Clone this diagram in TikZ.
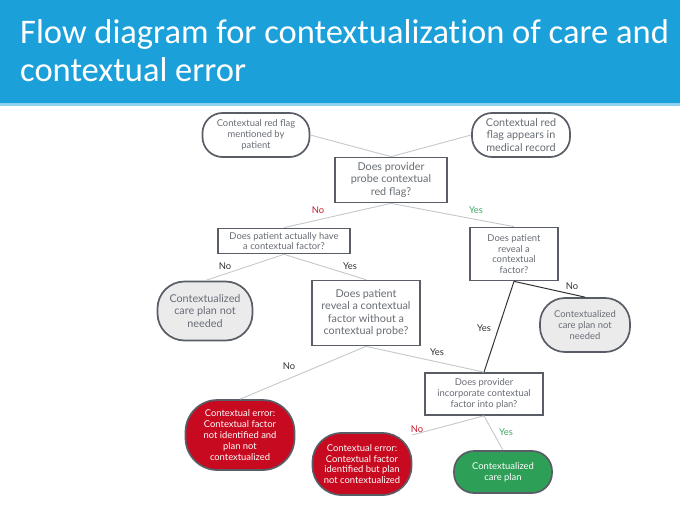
\documentclass[tikz,border=0pt]{standalone}
\usepackage{fontspec}
\setmainfont{Lato}
\newfontfamily\titlefont[Ligatures=NoCommon]{Carlito}

\definecolor{hdrblue}{HTML}{1CA0DA}
\definecolor{hdredge}{HTML}{8ED2F0}
\definecolor{boxline}{HTML}{585D66}
\definecolor{txtgrey}{HTML}{686D75}
\definecolor{pillgrey}{HTML}{EBEBEC}
\definecolor{linkgrey}{HTML}{C4C7CB}
\definecolor{errred}{HTML}{C70A1F}
\definecolor{okgreen}{HTML}{2E9F57}
\definecolor{nored}{HTML}{C4212E}
\definecolor{yesgreen}{HTML}{3FAA63}

\def \smallsz {\fontsize{9.4}{10.8}\selectfont}
\def \bigsz {\fontsize{10.8}{12.2}\selectfont}
\def \boxlw {1.7pt}

\tikzset{
  qbox/.style={draw=boxline, line width=\boxlw, fill=white, text=txtgrey, align=center, inner sep=1pt},
  startpill/.style={qbox, rounded corners=#1},
  greypill/.style={qbox, fill=pillgrey, rounded corners=#1},
  errpill/.style={draw=boxline, line width=\boxlw, fill=errred, text=white, align=center, inner sep=1pt, rounded corners=#1},
  okpill/.style={draw=boxline, line width=\boxlw, fill=okgreen, text=white, align=center, inner sep=1pt, rounded corners=#1},
  link/.style={draw=linkgrey, line width=0.9pt},
  darklink/.style={draw=black!80, line width=1pt},
  lbl/.style={font=\smallsz, text=black!80, inner sep=0pt},
}

\begin{document}
\begin{tikzpicture}[x=1pt, y=-1pt]
\useasboundingbox (0,0) rectangle (680,508);

% header band
\fill[hdrblue] (0,0) rectangle (680,103);
\fill[hdredge] (0,103) rectangle (680,106);
\node[anchor=base west, text=white, inner sep=0pt, font=\titlefont\fontsize{34.5}{40}\selectfont] (title1) at (20,44) {Flow diagram for contextualization of care and};
\node[anchor=base west, text=white, inner sep=0pt, font=\titlefont\fontsize{34.5}{40}\selectfont] (title2) at (20,82) {contextual error};

% start points
\node[startpill=20pt, font=\smallsz, minimum width=107pt, minimum height=44pt] (flagpat) at (256,135) {Contextual red flag\\mentioned by\\patient};
\node[startpill=20pt, font=\bigsz, minimum width=98pt, minimum height=44pt] (flagrec) at (521,135) {Contextual red\\flag appears in\\medical record};

% questions
\node[qbox, font=\bigsz, minimum width=112pt, minimum height=45pt] (probe) at (391,180) {Does provider\\probe contextual\\red flag?};
\node[qbox, font=\smallsz, minimum width=132pt, minimum height=25pt] (actual) at (284,241) {Does patient actually have\\a contextual factor?};
\node[qbox, font=\smallsz, minimum width=88pt, minimum height=53pt] (reveal) at (514,254) {Does patient\\reveal a\\contextual\\factor?};
\node[qbox, font=\bigsz, minimum width=108pt, minimum height=65pt] (noprobe) at (366,313) {Does patient\\reveal a contextual\\factor without a\\contextual probe?};
\node[qbox, font=\smallsz, minimum width=118pt, minimum height=42pt] (incorp) at (484,394) {Does provider\\incorporate contextual\\factor into plan?};

% outcomes
\node[greypill=27pt, font=\bigsz, minimum width=95pt, minimum height=59pt] (notneedA) at (205,311) {Contextualized\\care plan not\\needed};
\node[greypill=25pt, font=\smallsz, minimum width=90pt, minimum height=54pt] (notneedB) at (585,325) {Contextualized\\care plan not\\needed};
\node[errpill=32pt, font=\smallsz, minimum width=109pt, minimum height=70pt] (errorA) at (240,435) {Contextual error:\\Contextual factor\\not identified and\\plan not\\contextualized};
\node[errpill=29pt, font=\smallsz, minimum width=99pt, minimum height=62pt] (errorB) at (362,464) {Contextual error:\\Contextual factor\\identified but plan\\not contextualized};
\node[okpill=20pt, font=\smallsz, minimum width=98pt, minimum height=42pt] (carePlan) at (503,472) {Contextualized\\care plan};

% connectors
\draw[link] (flagpat.east) -- (probe.north);
\draw[link] (flagrec.west) -- (probe.north);
\draw[link] (probe.south) -- (actual.north);
\draw[link] (probe.south) -- (reveal.north);
\draw[link] (actual.south) -- (notneedA.north);
\draw[link] (actual.south) -- (noprobe.north);
\draw[darklink] (reveal.south) -- (incorp.north);
\draw[darklink] (reveal.south) -- (notneedB.north);
\draw[link] (noprobe.south) -- (incorp.north);
\draw[link] (noprobe.south) -- (errorA.north);
\draw[link] (incorp.south) -- (errorB.30);
\draw[link] (incorp.south) -- (carePlan.north);

% branch labels
\node[lbl, text=nored] (noA) at (318,210) {No};
\node[lbl, text=yesgreen] (yesA) at (476,210) {Yes};
\node[lbl] (noB) at (225,266) {No};
\node[lbl] (yesB) at (350,266) {Yes};
\node[lbl] (noC) at (572,286) {No};
\node[lbl] (yesC) at (484,328) {Yes};
\node[lbl] (yesD) at (437,352) {Yes};
\node[lbl] (noD) at (289,366) {No};
\node[lbl, text=nored] (noE) at (417,429) {No};
\node[lbl, text=yesgreen] (yesE) at (506,432) {Yes};
\end{tikzpicture}
\end{document}
